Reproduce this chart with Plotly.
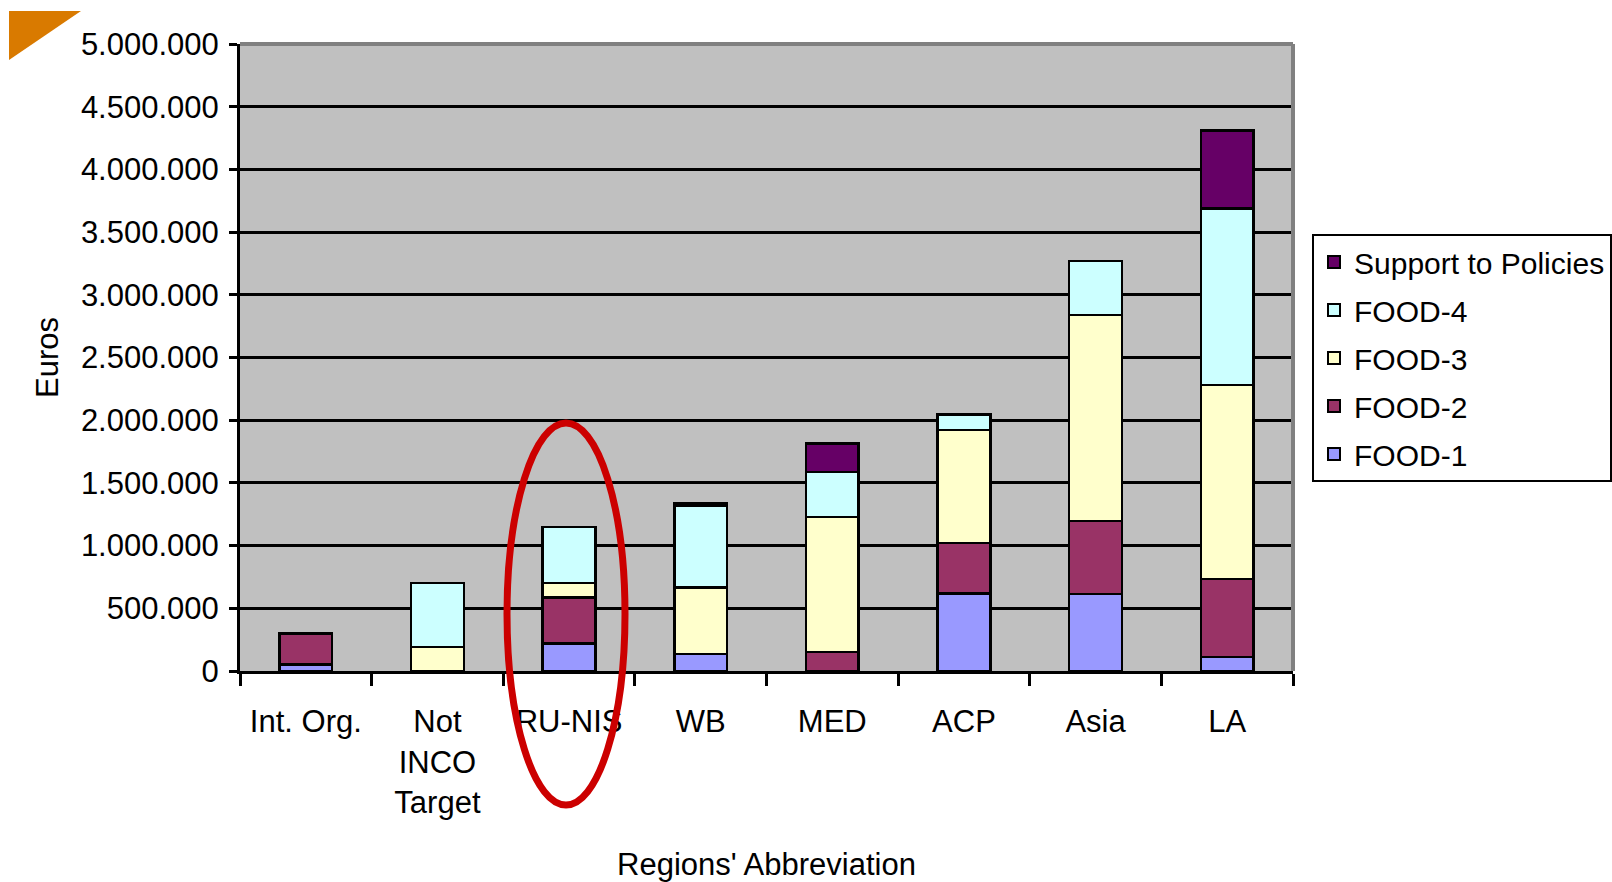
import plotly.graph_objects as go

categories = ["Int. Org.", "Not<br>INCO<br>Target", "RU-NIS", "WB", "MED", "ACP", "Asia", "LA"]
food1 = [50000, 0, 220000, 135000, 0, 620000, 615000, 110000]
food2 = [250000, 0, 365000, 0, 150000, 400000, 580000, 625000]
food3 = [0, 190000, 115000, 530000, 1080000, 900000, 1645000, 1545000]
food4 = [0, 510000, 450000, 655000, 355000, 125000, 430000, 1410000]
support = [0, 0, 0, 20000, 230000, 0, 0, 620000]

series = [
    ("FOOD-1", food1, "#9999FF"),
    ("FOOD-2", food2, "#993366"),
    ("FOOD-3", food3, "#FFFFCC"),
    ("FOOD-4", food4, "#CCFFFF"),
    ("Support to Policies", support, "#660066"),
]

FONT = "Liberation Sans, Arial, sans-serif"
fig = go.Figure()
n = len(series)
for i, (name, vals, col) in enumerate(series):
    fig.add_trace(go.Bar(
        name=name, x=categories, y=vals,
        marker=dict(color=col, line=dict(color="black", width=2.5)),
        legendgroup=name, legendrank=n - i,
    ))

W, H = 1612, 882
L, R, T, B = 240, 319, 44, 211
pw, ph = W - L - R, H - T - B

def px2paper(x, y):
    return (x - L) / pw, (H - B - y) / ph

shapes = []
# grey top/right border of plot area
shapes.append(dict(type="line", xref="paper", yref="paper", x0=0, x1=1, y0=1, y1=1,
                   line=dict(color="#808080", width=4), layer="above"))
shapes.append(dict(type="line", xref="paper", yref="paper", x0=1, x1=1, y0=0, y1=1,
                   line=dict(color="#808080", width=4), layer="above"))
# red ellipse highlight around RU-NIS
ex0, ey0 = px2paper(507, 423)
ex1, ey1 = px2paper(625, 805)
shapes.append(dict(type="circle", xref="paper", yref="paper", x0=ex0, x1=ex1, y0=ey1, y1=ey0,
                   line=dict(color="#CC0000", width=7), layer="above"))
# orange corner triangle
a = px2paper(9, 11); b = px2paper(81, 11); c = px2paper(9, 60)
shapes.append(dict(type="path", xref="paper", yref="paper",
                   path=f"M{a[0]},{a[1]} L{b[0]},{b[1]} L{c[0]},{c[1]} Z",
                   fillcolor="#D97A00", line=dict(width=0), layer="above"))

lx, ly = px2paper(1312, 234)

fig.update_layout(
    width=W, height=H,
    barmode="stack", bargap=0.6,
    separators=",.",
    paper_bgcolor="white", plot_bgcolor="#C0C0C0",
    font=dict(family=FONT, size=31, color="black"),
    margin=dict(l=L, r=R, t=T, b=B, autoexpand=False),
    showlegend=True,
    legend=dict(x=lx, y=ly, xanchor="left", yanchor="top", traceorder="grouped",
                bgcolor="white", bordercolor="black", borderwidth=2,
                font=dict(size=30, family=FONT), tracegroupgap=6,
                itemsizing="constant"),
    shapes=shapes,
    xaxis=dict(
        title=dict(text="Regions' Abbreviation", font=dict(size=31), standoff=38),
        showline=True, linecolor="black", linewidth=3,
        ticks="outside", tickson="boundaries", ticklen=12, tickwidth=3, tickcolor="black",
        showgrid=False, tickangle=0, ticklabelstandoff=21,
    ),
    yaxis=dict(
        title=dict(text="Euros", font=dict(size=31), standoff=14),
        range=[0, 5000000], dtick=500000, tickformat=",d",
        showline=True, linecolor="black", linewidth=3,
        ticks="outside", ticklen=8, tickwidth=3, tickcolor="black",
        showgrid=True, gridcolor="black", gridwidth=2.5,
        zeroline=False, ticklabelstandoff=4,
    ),
)

fig.write_html("out.html", config={"displayModeBar": False},
               post_script="document.body.style.margin='0px';")
